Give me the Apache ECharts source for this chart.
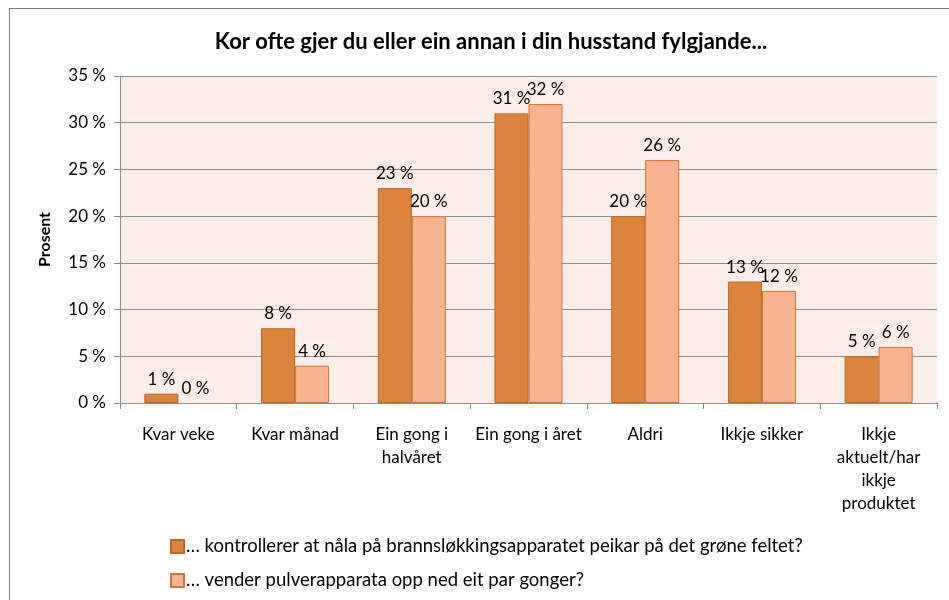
<!DOCTYPE html>
<html>
<head>
<meta charset="utf-8">
<script src="https://cdn.jsdelivr.net/npm/echarts@6/dist/echarts.min.js"></script>
<style>
    html, body { margin: 0; padding: 0; background: #fff; }
    #chart { width: 949px; height: 600px; }
    #frame { position: absolute; left: 9px; top: 8px; width: 960px; height: 620px; border: 1px solid #7f7f7f; pointer-events: none; }
</style>
</head>
<body>
<div id="chart"></div>
<div id="frame"></div>
<script>
// kategoriar
var categories = ['Kvar veke', 'Kvar månad', 'Ein gong i\nhalvåret', 'Ein gong i året', 'Aldri', 'Ikkje sikker', 'Ikkje\naktuelt/har\nikkje\nproduktet'];
// serienamn
var seriesNames = [
    '… kontrollerer at nåla på brannsløkkingsapparatet peikar på det grøne feltet?',
    '… vender pulverapparata opp ned eit par gonger?'
];
// verdiar i prosent
var kontrollerer = [1, 8, 23, 31, 20, 13, 5];
var vender = [0, 4, 20, 32, 26, 12, 6];

var font = 'Lato, "Open Sans", sans-serif';

// 0-verdiar skal ikkje teikne ein strek
function toData(arr) {
    return arr.map(function (v) {
        return v === 0 ? { value: v, itemStyle: { borderWidth: 0 } } : v;
    });
}

var labelStyle = { show: true, position: 'top', distance: 6, formatter: '{c} %', fontFamily: font, fontSize: 17, color: '#000' };

var chart = echarts.init(document.getElementById('chart'));
chart.setOption({
    animation: false,
    title: {
        text: 'Kor ofte gjer du eller ein annan i din husstand fylgjande...',
        left: 486,
        textAlign: 'center',
        top: 26,
        textStyle: { fontFamily: font, fontSize: 22, fontWeight: 'bold', color: '#000' }
    },
    grid: {
        left: 120,
        right: 12,
        top: 76,
        bottom: 197,
        show: true,
        backgroundColor: '#fbede7',
        borderWidth: 0
    },
    legend: {
        orient: 'vertical',
        left: 165,
        top: 532,
        itemGap: 15,
        itemWidth: 13,
        itemHeight: 13,
        icon: 'rect',
        textStyle: { fontFamily: font, fontSize: 18.5, color: '#000', padding: [0, 0, 0, -3] },
        data: seriesNames
    },
    xAxis: {
        type: 'category',
        data: categories,
        axisLine: { lineStyle: { color: '#8c8c8c' } },
        axisTick: { show: true, length: 6, lineStyle: { color: '#8c8c8c' } },
        axisLabel: { fontFamily: font, fontSize: 17, color: '#000', margin: 20, lineHeight: 23, interval: 0 }
    },
    yAxis: {
        type: 'value',
        min: 0,
        max: 35,
        interval: 5,
        name: 'Prosent',
        nameLocation: 'middle',
        nameGap: 67,
        nameTextStyle: { fontFamily: font, fontSize: 16, fontWeight: 'bold', color: '#000' },
        axisLine: { show: true, lineStyle: { color: '#8c8c8c' } },
        axisTick: { show: true, length: 6, lineStyle: { color: '#8c8c8c' } },
        splitLine: { lineStyle: { color: '#8c8c8c' } },
        axisLabel: { fontFamily: font, fontSize: 17, color: '#000', margin: 14, formatter: '{value} %' }
    },
    series: [
        {
            name: seriesNames[0],
            type: 'bar',
            data: toData(kontrollerer),
            barWidth: 34,
            barGap: '0%',
            itemStyle: { color: '#db843d', borderColor: '#b8692c', borderWidth: 1 },
            label: labelStyle
        },
        {
            name: seriesNames[1],
            type: 'bar',
            data: toData(vender),
            barWidth: 34,
            itemStyle: { color: '#f9b38d', borderColor: '#c8753d', borderWidth: 1 },
            label: labelStyle
        }
    ]
});
</script>
</body>
</html>
